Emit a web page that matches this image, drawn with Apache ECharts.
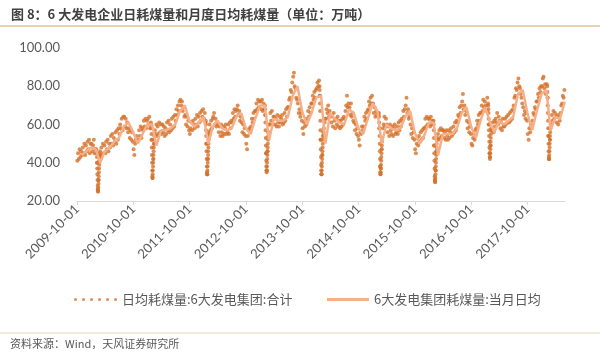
<!DOCTYPE html>
<html><head><meta charset="utf-8">
<script src="https://cdn.jsdelivr.net/npm/echarts@6/dist/echarts.min.js"></script>
<style>html,body{margin:0;padding:0;background:#fff}#c{width:600px;height:353px}</style>
</head><body><div id="c"></div><script>
const titleText = '图 8：6 大发电企业日耗煤量和月度日均耗煤量（单位：万吨）';
const sourceText = '资料来源：Wind，天风证券研究所';
const seriesNames = ['日均耗煤量:6大发电集团:合计', '6大发电集团耗煤量:当月日均'];
const xTickLabels = ['2009-10-01','2010-10-01','2011-10-01','2012-10-01','2013-10-01','2014-10-01','2015-10-01','2016-10-01','2017-10-01'];
const xRange = ['2009-10-01', '2018-06-01'];
const yMin = 20, yMax = 100, yStep = 20;

// monthly average (当月日均), first month = 2009-10
const firstMonth = [2009, 10];
const monthly2009 = [44, 46, 48];
const monthly2010 = [47, 40, 46, 48, 51, 53, 59, 61, 56, 50, 55, 60];
const monthly2011 = [60, 49, 57, 57, 58, 60, 67, 70, 62, 59, 61, 64];
const monthly2012 = [50, 59, 62, 58, 57, 58, 64, 66, 58, 55, 63, 70];
const monthly2013 = [70, 52, 63, 62, 62, 64, 75, 80, 67, 60, 66, 74];
const monthly2014 = [75, 50, 66, 63, 61, 60, 68, 66, 58, 55, 63, 71];
const monthly2015 = [67, 50, 60, 58, 57, 58, 64, 67, 56, 50, 54, 61];
const monthly2016 = [61, 44, 55, 55, 55, 58, 66, 69, 59, 53, 62, 69];
const monthly2017 = [61, 56, 62, 60, 62, 64, 76, 78, 66, 57, 67, 76];
const monthly2018 = [78, 57, 64, 63, 72];

// daily values sampled on these days of each month
const dotDays = [3, 8, 13, 18, 23, 28];
const daily2009 = [41,45,42,47,43,46, 44,48,45,50,44,49, 46,51,47,52,45,50];
const daily2010 = [50,46,49,52,45,47, 47,40,26,31,41,46, 43,48,44,50,45,49, 45,51,47,52,46,50,
  48,54,50,55,49,53, 51,56,50,57,52,58, 55,60,58,63,57,64, 64,59,63,58,61,56,
  58,53,57,52,56,51, 47,44,50,52,54,51, 52,57,54,59,53,58, 57,62,59,63,58,62];
const daily2011 = [63,60,64,58,61,52, 32,42,50,57,55,60, 54,59,55,61,56,60, 55,60,56,59,54,58,
  55,61,57,62,56,60, 57,63,58,64,59,65, 62,68,65,70,67,72, 73,70,72,67,69,64,
  65,60,64,59,62,57, 55,58,61,57,62,60, 58,63,60,65,59,64, 61,66,62,67,64,68];
const daily2012 = [63,66,61,50,34,42, 55,60,57,62,58,63, 64,66,60,63,59,61, 60,56,59,54,60,56,
  54,59,55,58,60,55, 56,60,55,61,58,62, 61,66,63,68,64,67, 68,70,65,67,62,64,
  61,56,60,55,58,54, 50,47,54,57,58,56, 59,63,61,66,63,67, 67,71,68,73,69,72];
const daily2013 = [72,68,73,67,71,68, 65,45,36,46,56,60, 60,66,62,67,60,64, 64,60,63,59,65,61,
  59,64,61,63,65,60, 61,66,62,68,64,69, 69,73,74,78,77,82, 85,87,80,79,74,73,
  71,66,68,64,66,62, 58,55,61,59,63,60, 62,67,64,69,66,71, 71,75,73,77,74,78];
const daily2014 = [79,82,80,83,75,52, 34,44,54,58,61,63, 63,68,66,70,64,67, 65,61,64,59,66,62,
  58,63,60,64,59,62, 58,62,59,63,60,64, 63,67,70,75,69,71, 69,65,71,64,66,62,
  61,57,60,55,58,54, 52,49,56,55,59,57, 59,64,62,66,63,67, 68,72,70,74,71,75];
const daily2015 = [71,66,69,64,67,65, 66,65,58,38,37,47, 53,58,60,64,59,63, 60,56,59,54,60,57,
  55,59,54,58,60,55, 56,59,55,61,57,62, 59,63,62,67,64,68, 70,74,66,68,63,64,
  60,55,58,53,56,52, 47,45,50,53,49,54, 51,56,52,57,53,58, 58,63,59,64,60,63];
const daily2016 = [63,59,64,60,62,61, 49,31,36,46,53,55, 52,57,53,58,54,57, 57,53,56,52,57,54,
  52,57,53,56,58,54, 55,59,56,61,57,62, 61,65,64,69,66,70, 72,76,68,70,65,67,
  62,58,61,56,59,55, 50,49,53,55,52,57, 58,62,60,65,62,66, 66,70,67,73,69,72];
const daily2017 = [70,67,74,71,60,45, 49,58,57,61,56,62, 59,63,61,66,60,64, 62,58,61,57,63,59,
  59,63,60,64,61,65, 61,66,62,67,63,68, 70,74,75,79,78,82, 84,80,79,76,74,71,
  69,65,67,63,66,62, 55,52,58,56,60,58, 62,66,65,69,68,72, 72,76,74,79,77,80];
const daily2018 = [80,84,85,79,81,76, 81,74,54,42,52,60, 60,65,62,67,63,66, 64,61,65,60,64,62,
  66,70,71,75,74,78];

// daily values around each Spring Festival (consecutive days from the start date)
const holidayStarts = ['2010-02-06','2011-01-25','2012-01-14','2013-02-01','2014-01-21','2015-02-10','2016-01-30','2017-01-19','2018-02-06'];
const holidayValues = [
  [45,43,40,37,34,31,28,26,25,25,27,29,31,33,35,37,39,41,43,44,45],
  [60,58,55,52,48,44,40,36,33,32,34,36,38,40,42,44,46,48,50,52,54],
  [62,60,57,54,50,46,42,38,35,34,34,36,38,40,42,44,46,48,50,52,54,56],
  [70,68,65,61,57,53,49,45,41,38,36,35,36,38,40,42,44,46,48,50,52,54,56],
  [80,78,75,71,67,62,57,52,47,43,39,36,34,34,36,38,40,42,44,46,48,50,52,54,56],
  [66,64,61,58,54,50,46,42,38,35,34,34,35,37,39,41,43,45,47,49,51,53],
  [62,60,57,53,49,45,41,37,33,31,30,30,32,34,36,38,40,42,44,46,48,50,52],
  [70,68,66,63,60,57,54,51,48,45,43,42,43,45,47,49,51,53,55,57],
  [80,77,74,70,66,62,58,54,50,46,43,42,42,44,46,48,50,52,54,56,58]
];

// ---- build data ----
const DAY = 86400000;
function parseDate(s){ const p = s.split('-').map(Number); return Date.UTC(p[0], p[1]-1, p[2]); }
function monthOf(i){ const mi = firstMonth[1]-1+i; return [firstMonth[0]+Math.floor(mi/12), mi%12+1]; }
const monthlyAll = [].concat(monthly2009, monthly2010, monthly2011, monthly2012, monthly2013, monthly2014, monthly2015, monthly2016, monthly2017, monthly2018);
const dailyAll = [].concat(daily2009, daily2010, daily2011, daily2012, daily2013, daily2014, daily2015, daily2016, daily2017, daily2018);
const lineData = monthlyAll.map((v, i) => { const ym = monthOf(i); return [Date.UTC(ym[0], ym[1], 0), v]; });
const dotData = dailyAll.map((v, i) => { const ym = monthOf(Math.floor(i/dotDays.length)); return [Date.UTC(ym[0], ym[1]-1, dotDays[i%dotDays.length]), v]; });
holidayStarts.forEach((s, k) => { const t0 = parseDate(s); holidayValues[k].forEach((v, j) => dotData.push([t0 + j*DAY, v])); });
const tickValues = xTickLabels.map(parseDate);
const labelOf = {}; xTickLabels.forEach((l, i) => labelOf[tickValues[i]] = l);

const dotPath = 'path://' + [0,1,2,3,4,5].map(k => { const x = k*8; return 'M' + x + ',1.5a1.5,1.5 0 1,0 3,0a1.5,1.5 0 1,0 -3,0'; }).join('');

const chart = echarts.init(document.getElementById('c'), null, {renderer: 'canvas'});
chart.setOption({
  animation: false,
  backgroundColor: '#ffffff',
  textStyle: { fontFamily: 'Noto Sans CJK SC, sans-serif' },
  title: [
    { text: titleText, left: 6, top: 3, textStyle: { fontSize: 13, fontWeight: 'bold', color: '#404040', fontFamily: 'Noto Sans CJK SC' } },
    { text: sourceText, left: 5, top: 333, textStyle: { fontSize: 11, fontWeight: 'normal', color: '#595959', fontFamily: 'Noto Sans CJK SC' } }
  ],
  graphic: [
    { type: 'line', shape: { x1: 0, y1: 26, x2: 600, y2: 26 }, style: { stroke: '#dcc69e', lineWidth: 1.5 } },
    { type: 'line', shape: { x1: 0, y1: 333, x2: 600, y2: 333 }, style: { stroke: '#e6d8b8', lineWidth: 1 } }
  ],
  legend: [
    { left: 69, top: 288, itemWidth: 43, itemHeight: 3, itemGap: 0, data: [{ name: seriesNames[0], icon: dotPath }],
      textStyle: { fontSize: 13, color: '#595959', fontFamily: 'Noto Sans CJK SC' } },
    { left: 322, top: 288, itemWidth: 42, itemHeight: 3, itemGap: 0, data: [{ name: seriesNames[1], icon: 'rect' }],
      textStyle: { fontSize: 13, color: '#595959', fontFamily: 'Noto Sans CJK SC' } }
  ],
  grid: { left: 77, right: 35, top: 48, bottom: 152 },
  xAxis: {
    type: 'value', min: parseDate(xRange[0]), max: parseDate(xRange[1]),
    splitLine: { show: false },
    axisLine: { show: true, lineStyle: { color: '#d9d9d9', width: 1 } },
    axisTick: { show: true, customValues: tickValues, length: 4, lineStyle: { color: '#d9d9d9' } },
    axisLabel: { customValues: tickValues, rotate: 45, margin: 6, fontSize: 13, color: '#595959', fontFamily: 'Lato',
      formatter: v => labelOf[v] || '' }
  },
  yAxis: {
    type: 'value', min: yMin, max: yMax, interval: yStep,
    splitLine: { show: false }, axisLine: { show: false }, axisTick: { show: false },
    axisLabel: { margin: 17, fontSize: 13, color: '#595959', fontFamily: 'Lato', formatter: v => v.toFixed(2) }
  },
  series: [
    { name: seriesNames[0], type: 'scatter', data: dotData, symbol: 'circle', symbolSize: 4,
      itemStyle: { color: '#d4722a' }, z: 2 },
    { name: seriesNames[1], type: 'line', data: lineData, symbol: 'none', showSymbol: false,
      lineStyle: { color: '#f5b08a', width: 2.5 }, itemStyle: { color: '#f5b08a' }, z: 3 }
  ]
});
</script></body></html>
